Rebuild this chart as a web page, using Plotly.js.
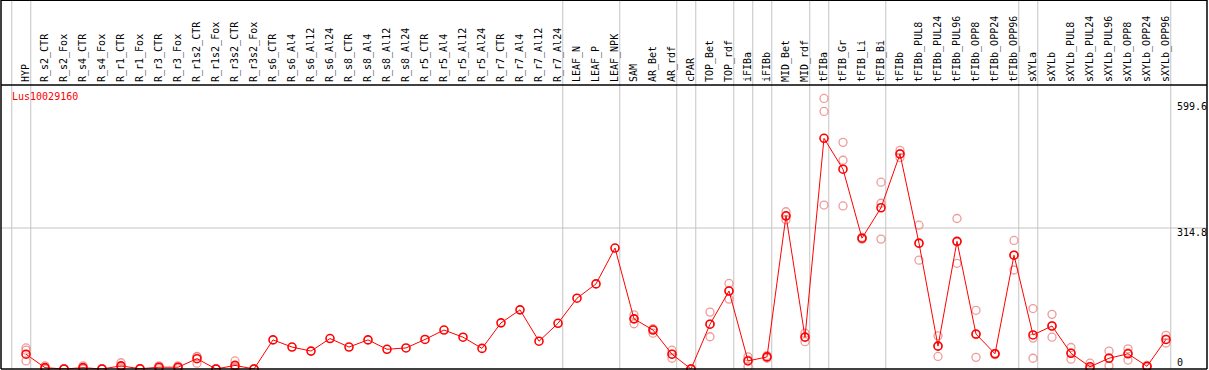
<!DOCTYPE html>
<html>
<head>
<meta charset="utf-8">
<script src="https://cdn.plot.ly/plotly-3.0.1.min.js"></script>
<style>html,body{margin:0;padding:0;background:#fff;}#chart{width:1209px;height:370px;}</style>
</head>
<body>
<div id="chart"></div>
<script>
const geneName = "Lus10029160";

const categories = ["HYP","R_s2_CTR","R_s2_Fox","R_s4_CTR","R_s4_Fox","R_r1_CTR","R_r1_Fox","R_r3_CTR","R_r3_Fox",
  "R_r1s2_CTR","R_r1s2_Fox","R_r3s2_CTR","R_r3s2_Fox","R_s6_CTR","R_s6_Al4","R_s6_Al12","R_s6_Al24",
  "R_s8_CTR","R_s8_Al4","R_s8_Al12","R_s8_Al24","R_r5_CTR","R_r5_Al4","R_r5_Al12","R_r5_Al24",
  "R_r7_CTR","R_r7_Al4","R_r7_Al12","R_r7_Al24","LEAF_N","LEAF_P","LEAF_NPK","SAM","AR_Bet","AR_rdf",
  "cPAR","TOP_Bet","TOP_rdf","iFIBa","iFIBb","MID_Bet","MID_rdf","tFIBa","tFIB_Gr","tFIB_Li","tFIB_Bi",
  "tFIBb","tFIBb_PUL8","tFIBb_PUL24","tFIBb_PUL96","tFIBb_OPP8","tFIBb_OPP24","tFIBb_OPP96",
  "sXYLa","sXYLb","sXYLb_PUL8","sXYLb_PUL24","sXYLb_PUL96","sXYLb_OPP8","sXYLb_OPP24","sXYLb_OPP96"];

const meanValues = [33,3,0,3,0,7,0.5,4,4,
  23,0,8,0,65,49,40,68,
  49,65,44,47,66,87,71,46,
  103,132,62,102,158,190,270,112,87,33,
  0,100,174,18,27,342,71,515,446,292,360,
  480,281,51,285,78,34,254,
  76,96,35,5,24,34,6,66];

const rep1 = [47,7,0,7,0,14,1,7,7,
  28,0,18,0,null,null,null,null,
  null,null,null,null,null,null,null,null,
  null,null,null,null,null,null,null,121,90,42,
  0,127,191,27,30,351,80,604,506,294,417,
  488,321,74,336,131,35,287,
  135,122,48,13,40,45,8,75];
const rep2 = [42,2,0,2,0,5,0,4,4,
  27,0,4,0,null,null,null,null,
  null,null,null,null,null,null,null,null,
  null,null,null,null,null,null,null,112,88,33,
  0,100,175,20,27,341,72,575,466,291,370,
  480,280,52,284,77,34,254,
  69,96,36,2,25,36,6,66];
const rep3 = [18,0,0,0,0,2,0,1,1,
  13,0,2,0,null,null,null,null,
  null,null,null,null,null,null,null,null,
  null,null,null,null,null,null,null,101,80,24,
  0,72,156,5,24,333,61,366,364,290,290,
  472,243,28,236,26,32,221,
  24,71,22,0,7,20,4,58];

// group separators: index of the first category of each group, plus the end
const groupStarts = [0,1,29,32,35,36,38,39,40,42,43,46,53,54,61];
const yLabelValues = [0, 314.8, 599.6];
const yLabelTexts = ["0", "314.8", "599.6"];

const FONT = "DejaVu Sans Mono, monospace";
const GRAY = "#c4c4c4";

const repX = [], repY = [];
[rep1, rep2, rep3].forEach(r => r.forEach((v, i) => { if (v !== null) { repX.push(categories[i]); repY.push(v); } }));

const traces = [
  {
    type: "scatter", mode: "markers", x: repX, y: repY, cliponaxis: false, hoverinfo: "skip",
    marker: {symbol: "circle-open", size: 8, color: "rgba(235,120,120,0.75)", line: {width: 1.3}}
  },
  {
    type: "scatter", mode: "lines+markers", x: categories, y: meanValues, cliponaxis: false,
    line: {color: "#ff0000", width: 1},
    marker: {symbol: "circle-open", size: 8, color: "#ff0000", line: {width: 1.6}}
  }
];

const shapes = [];
groupStarts.forEach(g => shapes.push({
  type: "line", xref: "x", yref: "paper", x0: g - 0.75, x1: g - 0.75, y0: 0, y1: 1.31,
  line: {color: GRAY, width: 1}, layer: "below"
}));
shapes.push({type: "line", xref: "paper", yref: "y", x0: 0, x1: 1, y0: 314.8, y1: 314.8,
  line: {color: GRAY, width: 1}, layer: "below"});
// frame
const K = {color: "#000", width: 1.5};
shapes.push({type: "line", xref: "paper", yref: "paper", x0: 0, x1: 1, y0: 1, y1: 1, line: K});
shapes.push({type: "line", xref: "paper", yref: "paper", x0: 0, x1: 1, y0: 1.298, y1: 1.298, line: K});
shapes.push({type: "line", xref: "paper", yref: "paper", x0: 0, x1: 1, y0: 0, y1: 0, line: K});
shapes.push({type: "line", xref: "paper", yref: "paper", x0: 0, x1: 0, y0: 0, y1: 1.31, line: K});
shapes.push({type: "line", xref: "paper", yref: "paper", x0: 1, x1: 1, y0: 0, y1: 1.31, line: K});

const annotations = [{
  text: geneName, xref: "paper", yref: "paper", x: 0.0075, y: 0.961, xanchor: "left", yanchor: "middle",
  showarrow: false, font: {family: FONT, size: 10, color: "#ff0000"}
}];
const yShifts = [7, -5, -6];
yLabelValues.forEach((v, k) => annotations.push({
  text: yLabelTexts[k], xref: "paper", yref: "y", x: 0.9735, y: v, xanchor: "left", yanchor: "middle",
  yshift: yShifts[k], showarrow: false, font: {family: FONT, size: 10, color: "#000"}
}));

const layout = {
  width: 1209, height: 370,
  margin: {l: 1, r: 2, t: 85, b: 1, pad: 0},
  paper_bgcolor: "#fff", plot_bgcolor: "#fff",
  showlegend: false,
  xaxis: {
    type: "category", categoryorder: "array", categoryarray: categories,
    side: "top", range: [-1.3158, 62.158],
    showgrid: false, zeroline: false, showline: false, ticks: "",
    tickangle: -90, ticklabelstandoff: 2,
    tickfont: {family: FONT, size: 10, color: "#000"}
  },
  yaxis: {
    range: [0, 634], showgrid: false, zeroline: false, showline: false,
    showticklabels: false, ticks: ""
  },
  shapes: shapes,
  annotations: annotations
};

Plotly.newPlot("chart", traces, layout, {staticPlot: true, displayModeBar: false});
</script>
</body>
</html>
